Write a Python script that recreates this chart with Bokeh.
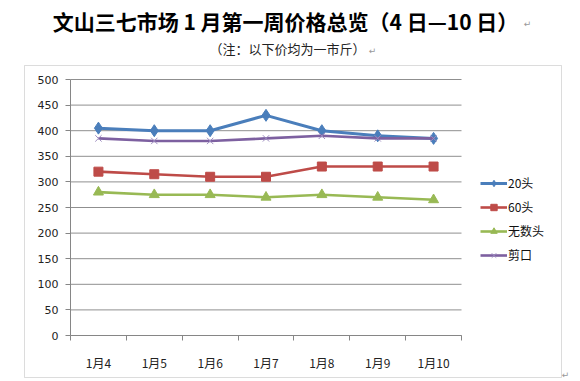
import numpy as np
from bokeh.plotting import figure
from bokeh.models import (FixedTicker, Label, BoxAnnotation, Legend, LegendItem, Range1d, LinearAxis)
from bokeh.embed import file_html
from bokeh.resources import INLINE

days = ["1月4", "1月5", "1月6", "1月7", "1月8", "1月9", "1月10"]
s20 = [405, 400, 400, 430, 400, 390, 385]
s60 = [320, 315, 310, 310, 330, 330, 330]
s_wu = [280, 275, 275, 270, 275, 270, 265]
s_jian = [385, 380, 380, 385, 390, 385, 385]
yticks = [0, 50, 100, 150, 200, 250, 300, 350, 400, 450, 500]

title_text = "文山三七市场 1 月第一周价格总览（4 日—10 日）"
sub_text = "（注：以下价均为一市斤）"

CJK = "Noto Sans CJK SC"
W, H = 580, 381
# plot area in pixels (left, right, top, bottom) measured from top-left
PL, PR, PT, PB = 70, 461, 79, 335
n = len(days)
ymax = yticks[-1]
kx = (PR - PL) / n
ky = (PB - PT) / ymax
x0 = -PL / kx
y0 = -(H - PB) / ky

xs = np.arange(n) + 0.5

p = figure(width=W, height=H, output_backend="svg", toolbar_location=None,
           x_range=Range1d(x0, x0 + W / kx), y_range=Range1d(y0, y0 + H / ky),
           x_axis_location=None, y_axis_location=None,
           min_border=0)
p.outline_line_color = None
p.background_fill_color = "white"
p.border_fill_color = "white"
for g in p.grid:
    g.visible = False

# grid lines (horizontal, only across plot area)
p.segment(x0=[0] * len(yticks), x1=[n] * len(yticks), y0=yticks, y1=yticks,
          line_color="#8f8f8f", line_width=1)

# axes
xaxis = LinearAxis(fixed_location=0, bounds=(0, n))
xaxis.ticker = FixedTicker(ticks=list(xs), minor_ticks=list(range(n + 1)))
xaxis.major_label_overrides = {float(x): d for x, d in zip(xs, days)}
xaxis.major_tick_out = 0
xaxis.major_tick_in = 0
xaxis.minor_tick_out = 5
xaxis.minor_tick_in = 0
xaxis.minor_tick_line_color = "#868686"
xaxis.axis_line_color = "#868686"
xaxis.major_label_standoff = 13
xaxis.major_label_text_font = CJK
xaxis.major_label_text_font_size = "12px"
xaxis.major_label_text_color = "#222222"
p.add_layout(xaxis, "below")

yaxis = LinearAxis(fixed_location=0, bounds=(0, ymax))
yaxis.ticker = FixedTicker(ticks=yticks, minor_ticks=[])
yaxis.major_tick_out = 5
yaxis.major_tick_in = 0
yaxis.major_tick_line_color = "#868686"
yaxis.axis_line_color = "#868686"
yaxis.major_label_standoff = 7
yaxis.major_label_text_font = "DejaVu Sans"
yaxis.major_label_text_font_size = "11px"
yaxis.major_label_text_color = "#222222"
p.add_layout(yaxis, "left")

series = [
    ("20头", s20, "#4A7EBB", "diamond", 12, 3),
    ("60头", s60, "#BE4B48", "square", 9, 2.6),
    ("无数头", s_wu, "#98B954", "triangle", 10, 2.6),
    ("剪口", s_jian, "#7D60A0", "x", 9, 2.6),
]
items = []
for name, vals, col, mk, sz, lw in series:
    lr = p.line(xs, vals, line_color=col, line_width=lw)
    mcol = "#9D8CC0" if mk == "x" else col
    mr = p.scatter(xs, vals, marker=mk, size=sz, fill_color=mcol, line_color=mcol, line_width=1)
    items.append(LegendItem(label=name, renderers=[lr, mr]))

legend = Legend(items=items, location=(480, H - 263), orientation="vertical",
                glyph_width=27, glyph_height=16, label_height=16, spacing=7,
                label_standoff=1, padding=0, margin=0,
                border_line_color=None, background_fill_alpha=0,
                label_text_font=CJK, label_text_font_size="12px", label_text_color="#111111")
p.add_layout(legend, "center")

# outer chart box
p.add_layout(BoxAnnotation(left=24, right=561, top=H - 65, bottom=H - 377,
                           left_units="screen", right_units="screen",
                           top_units="screen", bottom_units="screen",
                           fill_alpha=0, line_color="#8c8c8c", line_width=1))

# titles
p.add_layout(Label(x=285, y=H - 20, x_units="screen", y_units="screen", text=title_text,
                   text_font=CJK, text_font_size="21px", text_font_style="bold",
                   text_align="center", text_baseline="middle", text_color="#000000"))
p.add_layout(Label(x=287, y=H - 48, x_units="screen", y_units="screen", text=sub_text,
                   text_font=CJK, text_font_size="13px",
                   text_align="center", text_baseline="middle", text_color="#222222"))
for ax, ay in [(527, 23), (372, 50), (565, 374)]:
    p.add_layout(Label(x=ax, y=H - ay, x_units="screen", y_units="screen", text="↵",
                       text_font="DejaVu Sans", text_font_size="9px",
                       text_align="center", text_baseline="middle", text_color="#999999"))

open("out.html", "w").write(file_html(p, INLINE))
